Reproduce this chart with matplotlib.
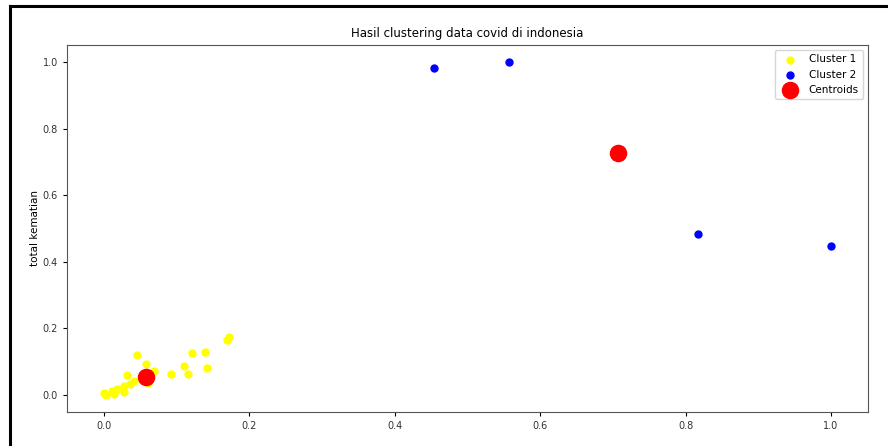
import matplotlib
matplotlib.use("Agg")
import matplotlib.pyplot as plt
from matplotlib.lines import Line2D

c1_x = [0.172, 0.169, 0.045, 0.121, 0.139, 0.057, 0.110, 0.142, 0.069, 0.032, 0.092,
        0.116, 0.041, 0.036, 0.028, 0.027, 0.018, 0.013, 0.011, 0.0, 0.003, 0.061]
c1_y = [0.175, 0.165, 0.120, 0.125, 0.128, 0.093, 0.088, 0.082, 0.071, 0.059, 0.062,
        0.064, 0.043, 0.033, 0.027, 0.010, 0.018, 0.004, 0.011, 0.007, 0.0, 0.035]
c2_x = [0.454, 0.557, 0.817, 1.0]
c2_y = [0.982, 1.0, 0.483, 0.447]
cent_x = [0.057, 0.707]
cent_y = [0.053, 0.727]

fig = plt.figure(figsize=(8.88, 4.46), dpi=100)
ax = fig.add_axes([0.0755, 0.0762, 0.902, 0.823])
ax.scatter(c1_x, c1_y, s=25, c='yellow', label='Cluster 1')
ax.scatter(c2_x, c2_y, s=25, c='blue', label='Cluster 2')
ax.scatter(cent_x, cent_y, s=135, c='red', label='Centroids')
ax.set_xlim(-0.051, 1.051)
ax.set_ylim(-0.051, 1.051)
ax.set_title('Hasil clustering data covid di indonesia', fontsize=8.5)
ax.set_ylabel('total kematian', fontsize=7.5, labelpad=2)
ax.tick_params(labelsize=7, labelcolor='#333333', length=3)
for sp in ax.spines.values():
    sp.set_color('#555555')
ax.legend(fontsize=7.5, loc='upper right')

# notebook screenshot border (left and top only)
fig.add_artist(Line2D([0.0113, 0.0113], [0.0, 0.987], color='black', lw=2.2,
                      transform=fig.transFigure))
fig.add_artist(Line2D([0.0113, 1.0], [0.987, 0.987], color='black', lw=2.2,
                      transform=fig.transFigure))

fig.savefig('out.png', dpi=100)
